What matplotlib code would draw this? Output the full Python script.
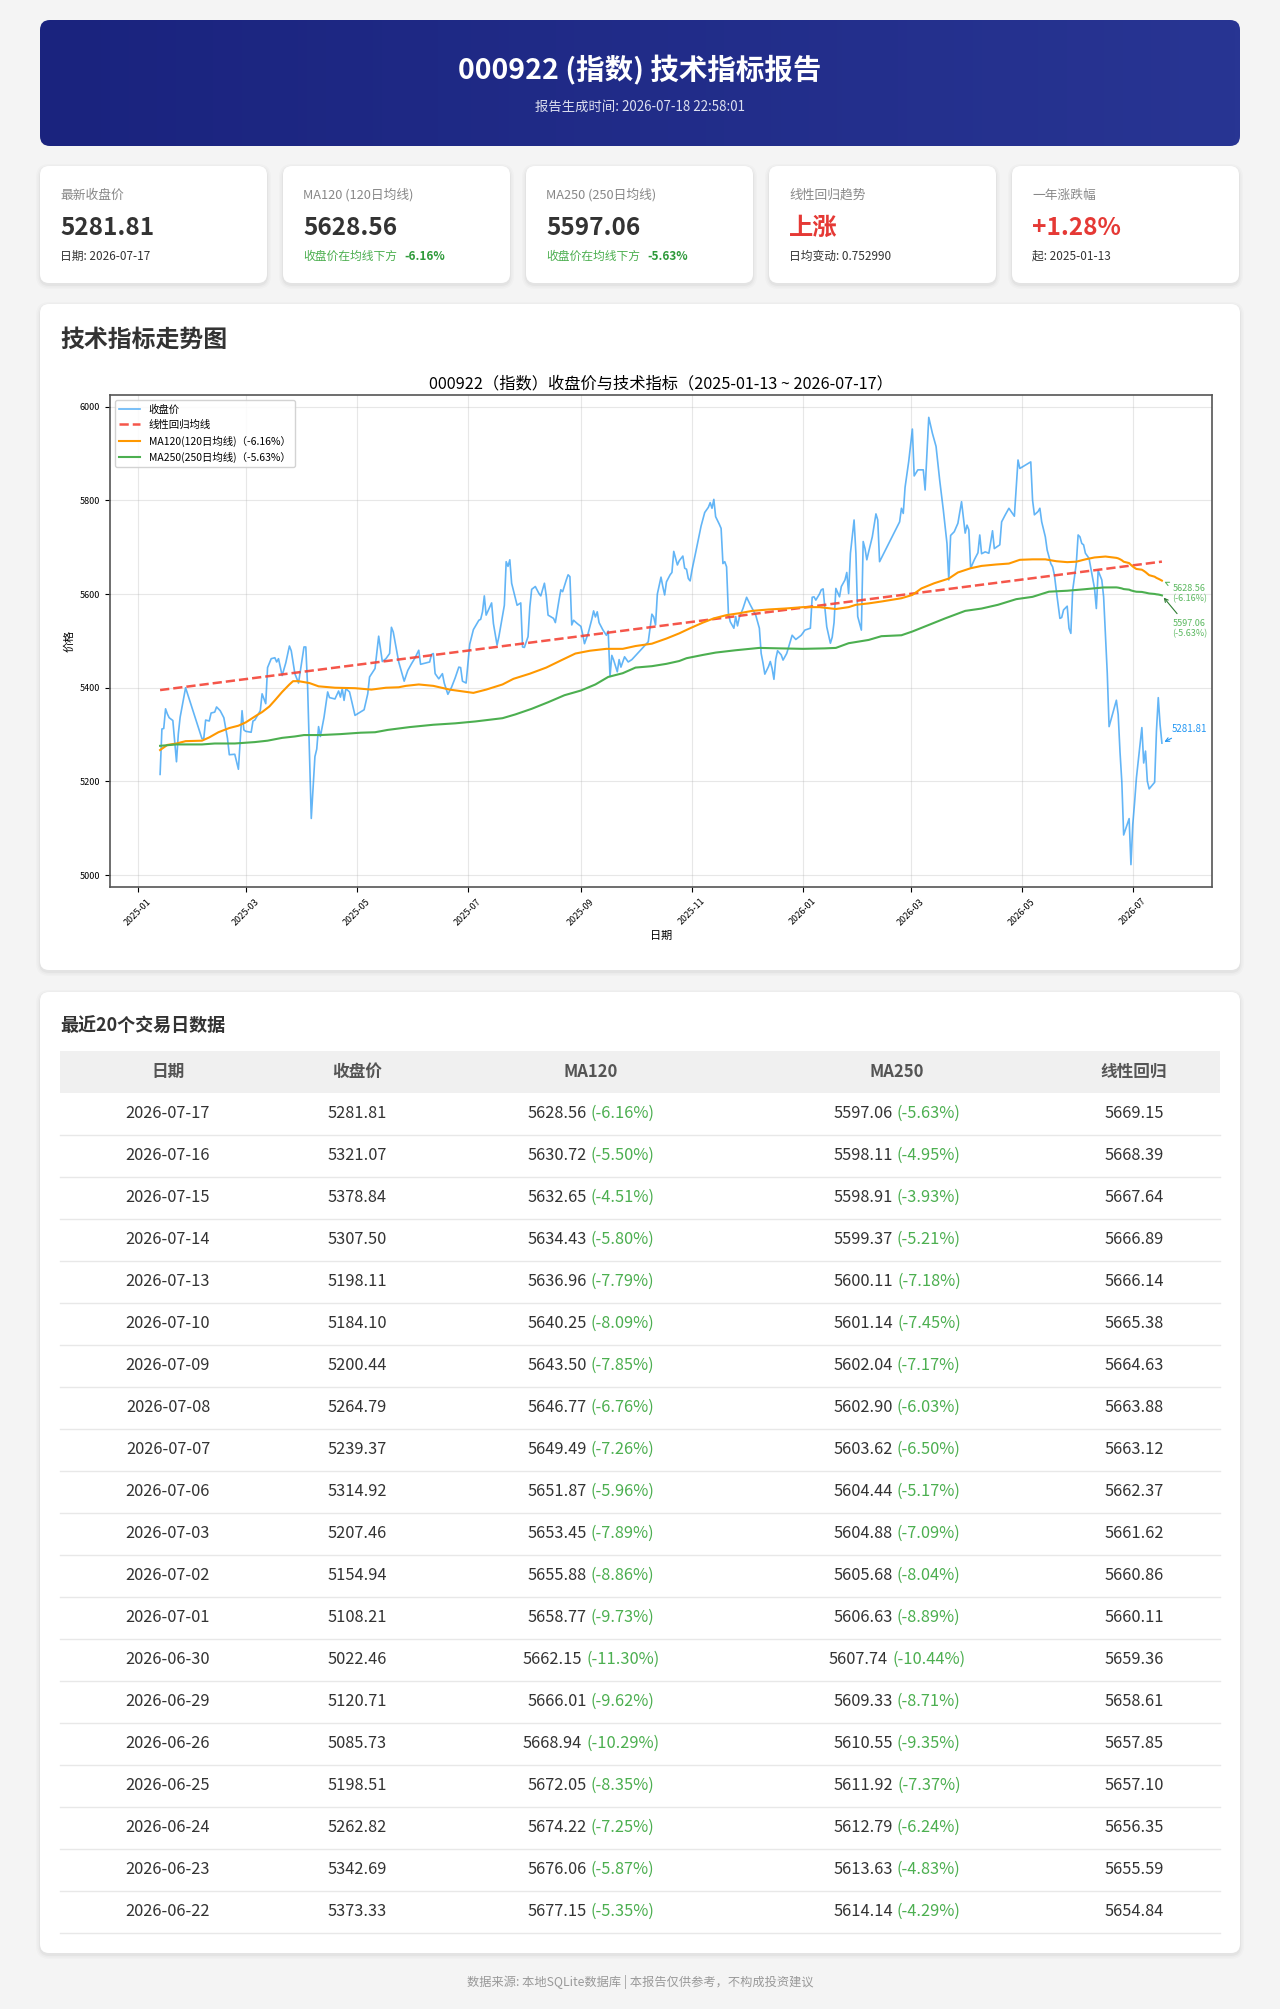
import numpy as np
import pandas as pd
import matplotlib
matplotlib.use('Agg')
import matplotlib.pyplot as plt
import matplotlib.dates as mdates
from matplotlib.patches import FancyBboxPatch
from matplotlib.colors import LinearSegmentedColormap
from matplotlib.offsetbox import TextArea, HPacker, AnnotationBbox

plt.rcParams['font.family'] = ['Noto Sans CJK SC', 'DejaVu Sans']
plt.rcParams['axes.unicode_minus'] = False

# ---------------- data ----------------
code = '000922'
gen_time = '2026-07-18 22:58:01'
first_date = '2025-01-13'
daily_slope = 0.752990
year_pct = 1.28

# last 20 trading days, newest first (table)
tbl_dates = ['2026-07-17', '2026-07-16', '2026-07-15', '2026-07-14', '2026-07-13',
             '2026-07-10', '2026-07-09', '2026-07-08', '2026-07-07', '2026-07-06',
             '2026-07-03', '2026-07-02', '2026-07-01', '2026-06-30', '2026-06-29',
             '2026-06-26', '2026-06-25', '2026-06-24', '2026-06-23', '2026-06-22']
tbl_close = [5281.81, 5321.07, 5378.84, 5307.50, 5198.11, 5184.10, 5200.44, 5264.79, 5239.37, 5314.92,
             5207.46, 5154.94, 5108.21, 5022.46, 5120.71, 5085.73, 5198.51, 5262.82, 5342.69, 5373.33]
tbl_ma120 = [5628.56, 5630.72, 5632.65, 5634.43, 5636.96, 5640.25, 5643.50, 5646.77, 5649.49, 5651.87,
             5653.45, 5655.88, 5658.77, 5662.15, 5666.01, 5668.94, 5672.05, 5674.22, 5676.06, 5677.15]
tbl_ma250 = [5597.06, 5598.11, 5598.91, 5599.37, 5600.11, 5601.14, 5602.04, 5602.90, 5603.62, 5604.44,
             5604.88, 5605.68, 5606.63, 5607.74, 5609.33, 5610.55, 5611.92, 5612.79, 5613.63, 5614.14]
tbl_reg = [5669.15, 5668.39, 5667.64, 5666.89, 5666.14, 5665.38, 5664.63, 5663.88, 5663.12, 5662.37,
           5661.62, 5660.86, 5660.11, 5659.36, 5658.61, 5657.85, 5657.10, 5656.35, 5655.59, 5654.84]

close_days = {
    '2025-01': [13, 14, 15, 16, 17, 18, 20, 22, 23, 24, 27],
    '2025-02': [5, 6, 7, 9, 10, 12, 13, 15, 17, 19, 20, 23, 25, 27, 28],
    '2025-03': [1, 4, 5, 6, 9, 10, 12, 13, 15, 17, 18, 19, 21, 23, 25, 26, 28, 30],
    '2025-04': [1, 2, 3, 4, 6, 8, 9, 10, 11, 13, 15, 16, 19, 21, 22, 23, 24, 25, 27, 30],
    '2025-05': [5, 7, 8, 11, 13, 15, 17, 19, 20, 21, 22, 24, 27, 29, 31],
    '2025-06': [2, 4, 5, 8, 10, 11, 12, 13, 15, 17, 18, 20, 22, 24, 26, 27, 28, 30],
    '2025-07': [2, 4, 7, 8, 9, 10, 11, 14, 15, 17, 18, 21, 22, 23, 24, 25, 28, 30, 31],
    '2025-08': [1, 3, 4, 5, 7, 9, 10, 12, 13, 14, 17, 18, 20, 21, 22, 24, 25, 26, 27, 28, 30],
    '2025-09': [1, 2, 3, 5, 7, 8, 9, 10, 11, 13, 15, 16, 17, 18, 19, 21, 22, 23, 25, 27, 29],
    '2025-10': [8, 10, 11, 12, 13, 15, 16, 17, 18, 20, 21, 22, 24, 25, 27, 28, 29, 30, 31],
    '2025-11': [1, 3, 6, 8, 10, 11, 12, 13, 14, 16, 17, 18, 19, 20, 21, 22, 24, 25, 26, 27, 29],
    '2025-12': [1, 3, 6, 8, 9, 10, 11, 13, 14, 15, 16, 17, 18, 20, 21, 23, 26, 28, 31],
    '2026-01': [2, 5, 6, 7, 8, 10, 11, 12, 13, 14, 16, 17, 18, 19, 21, 22, 23, 24, 25, 26, 27, 29, 30, 31],
    '2026-02': [2, 3, 4, 5, 6, 8, 10, 11, 12, 23, 24, 25, 26, 28],
    '2026-03': [2, 3, 5, 8, 9, 10, 11, 13, 15, 17, 19, 21, 22, 23, 25, 27, 29, 31],
    '2026-04': [1, 2, 3, 5, 7, 8, 9, 11, 13, 15, 16, 19, 20, 22, 24, 27, 29, 30],
    '2026-05': [6, 7, 8, 10, 11, 12, 14, 15, 17, 18, 19, 20, 22, 23, 24, 26, 27, 28, 29, 31],
    '2026-06': [1, 2, 3, 4, 5, 7, 9, 10, 11, 12, 14, 15, 17, 18],
}
close_vals = {
    '2025-01': [5215, 5312, 5313, 5355, 5344, 5336, 5330, 5242, 5301, 5337, 5400],
    '2025-02': [5291, 5292, 5331, 5329, 5346, 5348, 5359, 5351, 5336, 5292, 5257, 5258, 5226, 5351, 5310],
    '2025-03': [5307, 5305, 5329, 5331, 5351, 5387, 5366, 5443, 5462, 5464, 5455, 5462, 5426, 5453, 5489,
                5479, 5430, 5410],
    '2025-04': [5462, 5487, 5487, 5401, 5121, 5253, 5269, 5317, 5296, 5337, 5391, 5379, 5376, 5393, 5380,
                5398, 5373, 5398, 5391, 5341],
    '2025-05': [5353, 5387, 5423, 5441, 5510, 5456, 5462, 5473, 5529, 5519, 5498, 5455, 5414, 5437, 5451],
    '2025-06': [5464, 5480, 5450, 5453, 5455, 5471, 5473, 5430, 5419, 5430, 5410, 5386, 5401, 5421, 5444,
                5443, 5414, 5410],
    '2025-07': [5493, 5524, 5544, 5546, 5562, 5596, 5555, 5581, 5537, 5491, 5509, 5576, 5669, 5659, 5673,
                5623, 5576, 5581, 5487],
    '2025-08': [5486, 5509, 5573, 5610, 5616, 5601, 5596, 5623, 5596, 5555, 5548, 5539, 5587, 5609, 5605,
                5630, 5641, 5637, 5534, 5544, 5537],
    '2025-09': [5531, 5514, 5494, 5516, 5546, 5564, 5551, 5562, 5539, 5524, 5512, 5521, 5424, 5469, 5459,
                5434, 5460, 5444, 5466, 5455, 5460],
    '2025-10': [5498, 5557, 5551, 5534, 5600, 5636, 5616, 5598, 5626, 5641, 5646, 5691, 5662, 5671, 5681,
                5655, 5653, 5633, 5628],
    '2025-11': [5651, 5688, 5745, 5774, 5785, 5795, 5783, 5802, 5765, 5749, 5740, 5665, 5669, 5658, 5559,
                5541, 5527, 5552, 5532, 5550, 5569],
    '2025-12': [5593, 5577, 5555, 5527, 5473, 5453, 5429, 5445, 5456, 5441, 5418, 5461, 5479, 5470, 5459,
                5473, 5512, 5503, 5512],
    '2026-01': [5523, 5527, 5593, 5594, 5587, 5600, 5609, 5611, 5569, 5530, 5495, 5508, 5539, 5612, 5594,
                5616, 5623, 5630, 5646, 5601, 5687, 5758, 5687, 5552],
    '2026-02': [5523, 5712, 5697, 5673, 5690, 5722, 5771, 5758, 5669, 5754, 5783, 5772, 5828, 5883],
    '2026-03': [5952, 5852, 5865, 5865, 5822, 5900, 5977, 5943, 5915, 5843, 5779, 5708, 5630, 5725, 5733,
                5751, 5797, 5730],
    '2026-04': [5747, 5737, 5655, 5673, 5688, 5726, 5686, 5690, 5687, 5735, 5697, 5705, 5754, 5769, 5783,
                5766, 5886, 5868],
    '2026-05': [5882, 5800, 5769, 5776, 5783, 5754, 5722, 5694, 5665, 5658, 5640, 5608, 5548, 5550, 5566,
                5574, 5527, 5516, 5608, 5665],
    '2026-06': [5726, 5722, 5708, 5705, 5687, 5676, 5633, 5612, 5569, 5650, 5630, 5594, 5431, 5317],
}

ma120_dates = ['2025-01-13', '2025-01-17', '2025-01-22', '2025-01-27', '2025-02-05', '2025-02-09',
               '2025-02-14', '2025-02-20', '2025-02-25', '2025-03-01', '2025-03-07', '2025-03-10',
               '2025-03-14', '2025-03-17', '2025-03-21', '2025-03-25', '2025-03-27', '2025-03-30',
               '2025-04-05', '2025-04-10', '2025-04-19', '2025-04-30', '2025-05-09', '2025-05-17',
               '2025-05-24', '2025-05-28', '2025-06-04', '2025-06-12', '2025-06-21', '2025-07-04',
               '2025-07-11', '2025-07-20', '2025-07-26', '2025-08-04', '2025-08-13', '2025-08-22',
               '2025-08-29', '2025-09-06', '2025-09-15', '2025-09-24', '2025-10-01', '2025-10-10',
               '2025-10-18', '2025-10-25', '2025-10-31', '2025-11-07', '2025-11-13', '2025-11-20',
               '2025-11-27', '2025-12-04', '2025-12-13', '2025-12-22', '2026-01-01', '2026-01-10',
               '2026-01-19', '2026-01-26', '2026-01-30', '2026-02-06', '2026-02-13', '2026-02-24',
               '2026-03-02', '2026-03-07', '2026-03-14', '2026-03-22', '2026-03-27', '2026-04-03',
               '2026-04-09', '2026-04-17', '2026-04-24', '2026-04-30', '2026-05-07', '2026-05-14',
               '2026-05-20', '2026-05-26', '2026-05-31', '2026-06-05', '2026-06-10', '2026-06-16']
ma120_hist = [5267, 5278, 5281, 5286, 5287, 5294, 5305, 5314, 5319, 5326, 5341, 5348, 5360, 5373, 5391,
              5407, 5414, 5414, 5410, 5403, 5400, 5399, 5396, 5400, 5401, 5404, 5407, 5404, 5396, 5389,
              5396, 5407, 5419, 5430, 5443, 5460, 5473, 5479, 5483, 5483, 5489, 5494, 5505, 5516, 5527,
              5539, 5548, 5555, 5559, 5564, 5567, 5569, 5572, 5572, 5568, 5572, 5577, 5580, 5584, 5591,
              5598, 5612, 5623, 5633, 5646, 5655, 5660, 5663, 5665, 5673, 5674, 5674, 5670, 5668, 5669,
              5674, 5678, 5680]

ma250_dates = ['2025-01-13', '2025-01-22', '2025-02-05', '2025-02-12', '2025-02-23', '2025-03-06',
               '2025-03-13', '2025-03-21', '2025-03-28', '2025-04-02', '2025-04-11', '2025-04-22',
               '2025-05-03', '2025-05-11', '2025-05-18', '2025-05-30', '2025-06-12', '2025-06-24',
               '2025-07-05', '2025-07-20', '2025-07-27', '2025-08-05', '2025-08-14', '2025-08-23',
               '2025-09-01', '2025-09-09', '2025-09-16', '2025-09-24', '2025-10-01', '2025-10-10',
               '2025-10-18', '2025-10-25', '2025-10-29', '2025-11-07', '2025-11-14', '2025-11-25',
               '2025-12-08', '2025-12-19', '2026-01-01', '2026-01-13', '2026-01-19', '2026-01-26',
               '2026-02-06', '2026-02-13', '2026-02-24', '2026-03-02', '2026-03-11', '2026-03-20',
               '2026-03-31', '2026-04-09', '2026-04-18', '2026-04-28', '2026-05-07', '2026-05-16',
               '2026-05-26', '2026-06-04', '2026-06-15']
ma250_hist = [5276, 5279, 5279, 5281, 5281, 5284, 5287, 5293, 5296, 5299, 5299, 5301, 5304, 5305, 5310,
              5316, 5321, 5324, 5328, 5335, 5343, 5355, 5369, 5384, 5394, 5407, 5423, 5431, 5443, 5446,
              5451, 5457, 5463, 5470, 5475, 5480, 5485, 5484, 5483, 5484, 5485, 5495, 5502, 5510, 5512,
              5520, 5534, 5548, 5564, 5569, 5577, 5589, 5594, 5605, 5607, 5610, 5614]

reg_dates = ['2025-01-13', '2026-07-17']
reg_vals = [5395.0, 5669.15]

card_titles = ['最新收盘价', 'MA120 (120日均线)', 'MA250 (250日均线)', '线性回归趋势', '一年涨跌幅']
tbl_cols = ['日期', '收盘价', 'MA120', 'MA250', '线性回归']

# ---------------- colours ----------------
BLUE = '#2196F3'
ORANGE = '#FF9800'
GREEN = '#4CAF50'
RED = '#e53935'
DARK = '#333333'

# ---------------- build series ----------------
hist_d, hist_v = [], []
for m in close_days:
    hist_d += [f'{m}-{d:02d}' for d in close_days[m]]
    hist_v += close_vals[m]
close_d = pd.to_datetime(hist_d + tbl_dates[::-1])
close_v = hist_v + tbl_close[::-1]
ma120_d = pd.to_datetime(ma120_dates + tbl_dates[::-1])
ma120_v = ma120_hist + tbl_ma120[::-1]
ma250_d = pd.to_datetime(ma250_dates + tbl_dates[::-1])
ma250_v = ma250_hist + tbl_ma250[::-1]

pct120 = (tbl_close[0] / tbl_ma120[0] - 1) * 100
pct250 = (tbl_close[0] / tbl_ma250[0] - 1) * 100

# ---------------- page ----------------
fig = plt.figure(figsize=(12.8, 20.09), dpi=100)
fig.patch.set_facecolor('#f4f4f4')
bg = fig.add_axes([0, 0, 1, 1])
bg.set_xlim(0, 1280)
bg.set_ylim(2009, 0)
bg.axis('off')


def box(x, y, w, h, r=9, color='white', shadow=True):
    if shadow:
        for k, a in [(8, 0.015), (5, 0.02), (2, 0.03)]:
            bg.add_patch(FancyBboxPatch((x - k / 2, y - k / 2 + 2), w + k, h + k,
                                        boxstyle=f'round,pad=0,rounding_size={r + k / 2}',
                                        fc='black', ec='none', alpha=a))
    p = FancyBboxPatch((x, y), w, h, boxstyle=f'round,pad=0,rounding_size={r}', fc=color, ec='none')
    bg.add_patch(p)
    return p


def txt(x, y, s, size, color=DARK, weight='normal', ha='left'):
    bg.text(x, y, s, fontsize=size, color=color, fontweight=weight, ha=ha, va='center')


def pair(x, y, a, b, size, ca, cb, wa='normal', wb='normal', sep=3, align=0.5):
    ta = TextArea(a, textprops=dict(fontsize=size, color=ca, fontweight=wa))
    tb = TextArea(b, textprops=dict(fontsize=size, color=cb, fontweight=wb))
    pk = HPacker(children=[ta, tb], align='baseline', pad=0, sep=sep)
    bg.add_artist(AnnotationBbox(pk, (x, y), frameon=False, box_alignment=(align, 0.5), pad=0))


# header with gradient
hdr = box(40, 20, 1200, 126, r=10, color='none', shadow=False)
grad = np.linspace(0, 1, 256).reshape(1, -1)
cmap = LinearSegmentedColormap.from_list('hdr', ['#1a237e', '#283593'])
im = bg.imshow(grad, extent=(40, 1240, 146, 20), cmap=cmap, aspect='auto', zorder=1)
im.set_clip_path(hdr)
bg.set_xlim(0, 1280)
bg.set_ylim(2009, 0)
txt(640, 70, f'{code} (指数) 技术指标报告', 20.5, 'white', 'bold', 'center')
txt(640, 107, f'报告生成时间: {gen_time}', 9.6, '#dde0f0', ha='center')

# summary cards
card_x = [40, 283, 526, 769, 1012]
for i, cx in enumerate(card_x):
    box(cx, 166, 227, 117, r=9)
    txt(cx + 20, 195, card_titles[i], 9.2, '#888888')

txt(60, 228, f'{tbl_close[0]:.2f}', 17.5, DARK, 'bold')
txt(60, 256, f'日期: {tbl_dates[0]}', 8.5, DARK)
txt(303, 228, f'{tbl_ma120[0]:.2f}', 17.5, DARK, 'bold')
pair(303, 256, '收盘价在均线下方', f'{pct120:.2f}%', 8.5, GREEN, '#2e9a3a', wb='bold', sep=5, align=0)
txt(546, 228, f'{tbl_ma250[0]:.2f}', 17.5, DARK, 'bold')
pair(546, 256, '收盘价在均线下方', f'{pct250:.2f}%', 8.5, GREEN, '#2e9a3a', wb='bold', sep=5, align=0)
txt(789, 228, '上涨', 17.5, RED, 'bold')
txt(789, 256, f'日均变动: {daily_slope:.6f}', 8.5, DARK)
txt(1032, 228, f'+{year_pct:.2f}%', 17.5, RED, 'bold')
txt(1032, 256, f'起: {first_date}', 8.5, DARK)

# chart card
box(40, 304, 1200, 666, r=9)
txt(60, 340, '技术指标走势图', 17.2, DARK, 'bold')

ax = fig.add_axes([110 / 1280, 1 - 887 / 2009, 1102 / 1280, 492 / 2009])
ax.set_facecolor('white')
ax.plot(close_d, close_v, color=BLUE, alpha=0.7, lw=1.2, label='收盘价')
ax.plot(pd.to_datetime(reg_dates), reg_vals, color='#f44336', ls='--', lw=1.8, alpha=0.9,
        label='线性回归均线')
ax.plot(ma120_d, ma120_v, color=ORANGE, lw=1.5, label=f'MA120(120日均线)（{pct120:.2f}%）')
ax.plot(ma250_d, ma250_v, color=GREEN, lw=1.5, label=f'MA250(250日均线)（{pct250:.2f}%）')

last = close_d[-1]
ax.annotate(f'{tbl_close[0]:.2f}', xy=(last, tbl_close[0]), xytext=(7, 10), textcoords='offset points',
            fontsize=7, color=BLUE, va='center',
            arrowprops=dict(arrowstyle='->', color=BLUE, lw=0.8))
ax.annotate(f'{tbl_ma120[0]:.2f}\n({pct120:.2f}%)', xy=(last, tbl_ma120[0]), xytext=(7, -9.3),
            textcoords='offset points', fontsize=6.5, color='#5cb860', va='center', ha='left',
            multialignment='center', arrowprops=dict(arrowstyle='->', color='#5cb860', lw=0.8))
ax.annotate(f'{tbl_ma250[0]:.2f}\n({pct250:.2f}%)', xy=(last, tbl_ma250[0]), xytext=(7, -23.7),
            textcoords='offset points', fontsize=6.5, color='#5cb860', va='center', ha='left',
            multialignment='center', arrowprops=dict(arrowstyle='->', color='#2e7d32', lw=0.8))

ax.set_title(f'{code}（指数）收盘价与技术指标（{first_date} ~ {tbl_dates[0]}）', fontsize=11.7, pad=5)
ax.set_xlabel('日期', fontsize=8, labelpad=3)
ax.set_ylabel('价格', fontsize=8, labelpad=4)
ax.xaxis.set_major_locator(mdates.MonthLocator(bymonth=[1, 3, 5, 7, 9, 11]))
ax.xaxis.set_major_formatter(mdates.DateFormatter('%Y-%m'))
plt.setp(ax.get_xticklabels(), rotation=45)
ax.tick_params(labelsize=6.5, length=3.5, width=0.8)
ax.grid(True, alpha=0.3)
for s in ax.spines.values():
    s.set_color('#555555')
    s.set_linewidth(1.2)
ax.legend(loc='upper left', fontsize=7.5, framealpha=0.85, edgecolor='#cccccc')

# table card
box(40, 992, 1200, 961, r=9)
txt(60, 1026, '最近20个交易日数据', 13, DARK, 'bold')
bg.add_patch(plt.Rectangle((60, 1051), 1160, 42, fc='#f0f0f0', ec='none'))
col_x = [168, 357, 591, 897, 1134]
for cx, name in zip(col_x, tbl_cols):
    txt(cx, 1072, name, 12, '#555555', 'bold', 'center')

for i in range(len(tbl_dates)):
    yc = 1113.5 + 42 * i
    bg.plot([60, 1220], [yc + 21, yc + 21], color='#e8e8e8', lw=1)
    txt(col_x[0], yc, tbl_dates[i], 11.8, DARK, ha='center')
    txt(col_x[1], yc, f'{tbl_close[i]:.2f}', 11.8, DARK, ha='center')
    p1 = (tbl_close[i] / tbl_ma120[i] - 1) * 100
    p2 = (tbl_close[i] / tbl_ma250[i] - 1) * 100
    pair(col_x[2], yc, f'{tbl_ma120[i]:.2f}', f'({p1:.2f}%)', 11.8, DARK, GREEN)
    pair(col_x[3], yc, f'{tbl_ma250[i]:.2f}', f'({p2:.2f}%)', 11.8, DARK, GREEN)
    txt(col_x[4], yc, f'{tbl_reg[i]:.2f}', 11.8, DARK, ha='center')

txt(640, 1982, '数据来源: 本地SQLite数据库 | 本报告仅供参考，不构成投资建议', 8.8, '#999999', ha='center')

fig.savefig('out.png', dpi=100, facecolor=fig.get_facecolor())
